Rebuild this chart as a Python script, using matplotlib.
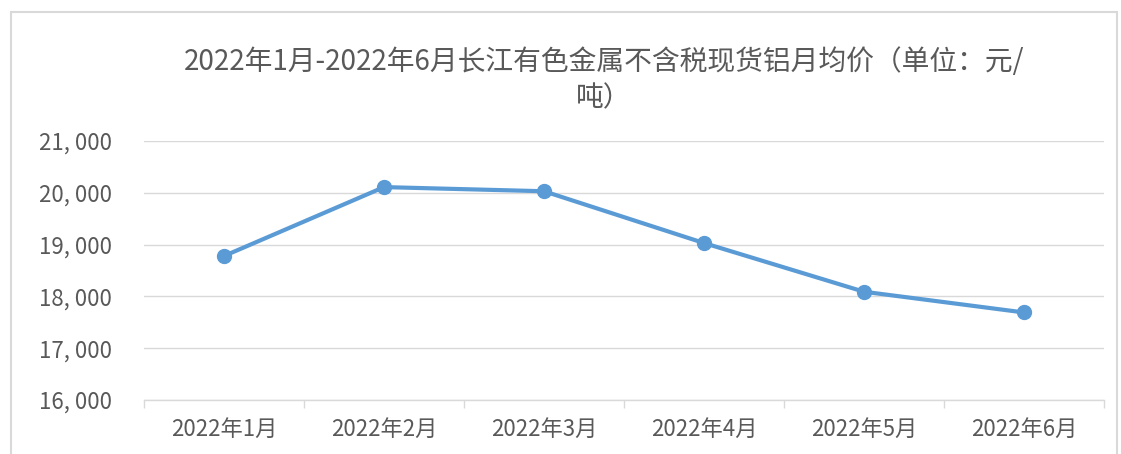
import matplotlib.pyplot as plt
from matplotlib.patches import Rectangle
from matplotlib.ticker import FuncFormatter, FixedLocator

plt.rcParams['font.family'] = ['Noto Sans CJK SC', 'DejaVu Sans']

months = ['2022年1月', '2022年2月', '2022年3月', '2022年4月', '2022年5月', '2022年6月']
prices = [18780, 20110, 20030, 19030, 18090, 17690]
y_ticks = [16000, 17000, 18000, 19000, 20000, 21000]
title = '2022年1月-2022年6月长江有色金属不含税现货铝月均价（单位：元/\n吨）'

text_color = '#595959'
grid_color = '#D9D9D9'
line_color = '#5B9BD5'

fig = plt.figure(figsize=(11.21, 4.54), dpi=100)
W, H = 1121, 454

# outer chart frame
fig.patches.append(Rectangle((11 / W, -0.05), (1117 - 11) / W, 1.05 - 12 / H,
                             transform=fig.transFigure, fill=False,
                             edgecolor='#D9D9D9', linewidth=1.5))

ax = fig.add_axes([144 / W, 1 - 400 / H, 960 / W, (400 - 141) / H])

xs = range(len(months))
ax.plot(xs, prices, color=line_color, linewidth=3, marker='o',
        markersize=10, solid_capstyle='round', zorder=3)

ax.set_xlim(-0.5, len(months) - 0.5)
ax.set_ylim(y_ticks[0], y_ticks[-1])
ax.set_yticks(y_ticks)
ax.yaxis.set_major_formatter(
    FuncFormatter(lambda v, p: f'{int(v):,}'.replace(',', ', ')))
ax.grid(axis='y', color=grid_color, linewidth=1)
ax.set_axisbelow(True)

ax.set_xticks(list(xs))
ax.set_xticklabels(months)
ax.xaxis.set_minor_locator(FixedLocator([i - 0.5 for i in range(len(months) + 1)]))
ax.tick_params(axis='x', which='major', length=0, pad=13, labelsize=16,
               labelcolor=text_color)
ax.tick_params(axis='x', which='minor', length=6, color=grid_color, width=1)
ax.tick_params(axis='y', length=0, pad=23, labelsize=16, labelcolor=text_color)

for side in ['top', 'right', 'left']:
    ax.spines[side].set_visible(False)
ax.spines['bottom'].set_color(grid_color)
ax.spines['bottom'].set_linewidth(1)

fig.text(604 / W, 1 - 80 / H, title, ha='center', va='center',
         fontsize=20, color=text_color, linespacing=1.25)

fig.savefig('out.png', dpi=100, facecolor='white')
